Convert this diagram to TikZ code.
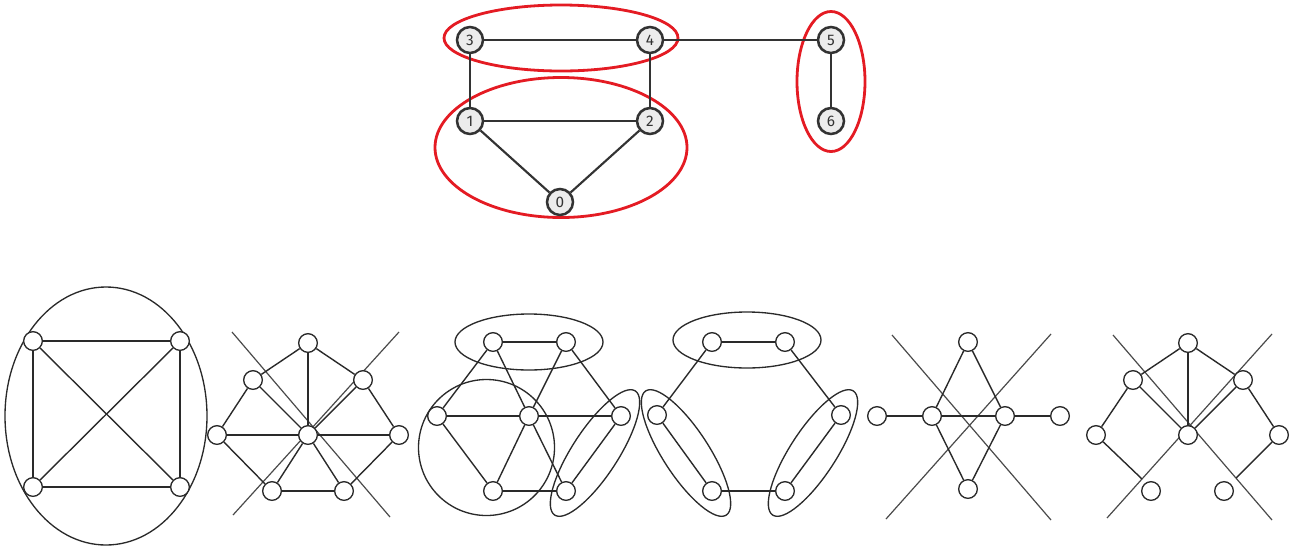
\documentclass[tikz,border=0pt]{standalone}
\usepackage{fontspec}
\setmainfont{Fira Sans}
\begin{document}
\begin{tikzpicture}[x=0.75pt,y=-0.75pt,
  tnode/.style={circle,draw=tgray,fill=nodefill,line width=1.9pt,minimum size=19.5pt,inner sep=0pt,font=\fontsize{11.5}{11.5}\selectfont,text=tgray},
  tedge/.style={draw=tgray,line width=1.6pt},
  redell/.style={draw=redc,line width=2.1pt},
  bnode/.style={circle,draw=bgray,fill=white,line width=1pt,minimum size=14pt,inner sep=0pt},
  bedge/.style={draw=bgray,line width=1.05pt},
  cross/.style={draw=cgray,line width=0.9pt},
  bell/.style={draw=bgray,line width=1pt}]
\definecolor{tgray}{HTML}{333333}
\definecolor{nodefill}{HTML}{ECECEC}
\definecolor{redc}{HTML}{E41B23}
\definecolor{bgray}{HTML}{2A2A2A}
\definecolor{cgray}{HTML}{4A4A4A}
\useasboundingbox (0,0) rectangle (1293,547);

% ---------- top graph ----------
\draw[redell] (561,38) ellipse [x radius=87.75pt, y radius=24.75pt];
\draw[redell] (561,147.5) ellipse [x radius=94.5pt, y radius=52.5pt];
\draw[redell] (831,81.5) ellipse [x radius=25.5pt, y radius=52.5pt];
\node[tnode] (t3) at (470,40) {3};
\node[tnode] (t4) at (650,40) {4};
\node[tnode] (t5) at (831,40) {5};
\node[tnode] (t1) at (470,121) {1};
\node[tnode] (t2) at (650,121) {2};
\node[tnode] (t6) at (831,121) {6};
\node[tnode] (t0) at (560,202) {0};
\draw[tedge] (t3) -- (t4);
\draw[tedge] (t4) -- (t5);
\draw[tedge] (t3) -- (t1);
\draw[tedge] (t4) -- (t2);
\draw[tedge] (t1) -- (t2);
\draw[tedge] (t1) -- (t0);
\draw[tedge] (t2) -- (t0);
\draw[tedge] (t5) -- (t6);

% ---------- panel 1 ----------
\draw[bell] (106,416) ellipse [x radius=75.75pt, y radius=96.75pt];
\node[bnode] (a1) at (33,341) {};
\node[bnode] (a2) at (180,341) {};
\node[bnode] (a3) at (33,487) {};
\node[bnode] (a4) at (180,487) {};
\draw[bedge] (a1) -- (a2);
\draw[bedge] (a3) -- (a4);
\draw[bedge] (a1) -- (a3);
\draw[bedge] (a2) -- (a4);
\draw[bedge] (a1) -- (a4);
\draw[bedge] (a2) -- (a3);

% ---------- panel 2 ----------
\coordinate (bx1) at (232,332);
\coordinate (bx2) at (390,517);
\coordinate (bx3) at (233,515);
\coordinate (bx4) at (399,332);
\draw[cross] (bx1) -- (bx2);
\draw[cross] (bx3) -- (bx4);
\node[bnode] (b1) at (308,343) {};
\node[bnode] (b2) at (253,380) {};
\node[bnode] (b3) at (363,380) {};
\node[bnode] (b4) at (217,435) {};
\node[bnode] (b5) at (308,435) {};
\node[bnode] (b6) at (399,435) {};
\node[bnode] (b7) at (272,491) {};
\node[bnode] (b8) at (344,491) {};
\draw[bedge] (b1) -- (b2);
\draw[bedge] (b1) -- (b3);
\draw[bedge] (b1) -- (b5);
\draw[bedge] (b2) -- (b4);
\draw[bedge] (b2) -- (b5);
\draw[bedge] (b3) -- (b6);
\draw[bedge] (b3) -- (b5);
\draw[bedge] (b4) -- (b5);
\draw[bedge] (b5) -- (b6);
\draw[bedge] (b4) -- (b7);
\draw[bedge] (b6) -- (b8);
\draw[bedge] (b7) -- (b8);
\draw[bedge] (b5) -- (b7);
\draw[bedge] (b5) -- (b8);

% ---------- panel 3 ----------
\node[bnode] (c1) at (493,342) {};
\node[bnode] (c2) at (566,342) {};
\node[bnode] (c3) at (437,416) {};
\node[bnode] (c4) at (529,416) {};
\node[bnode] (c5) at (621,416) {};
\node[bnode] (c6) at (493,491) {};
\node[bnode] (c7) at (566,491) {};
\draw[bedge] (c1) -- (c2);
\draw[bedge] (c1) -- (c3);
\draw[bedge] (c1) -- (c4);
\draw[bedge] (c2) -- (c4);
\draw[bedge] (c2) -- (c5);
\draw[bedge] (c3) -- (c4);
\draw[bedge] (c4) -- (c5);
\draw[bedge] (c3) -- (c6);
\draw[bedge] (c4) -- (c6);
\draw[bedge] (c4) -- (c7);
\draw[bedge] (c6) -- (c7);
\draw[bedge] (c5) -- (c7);
\draw[bell] (529,342) ellipse [x radius=55.5pt, y radius=21pt];
\draw[bell] (486.5,447.5) circle [radius=51pt];
\draw[bell, rotate around={57:(595,453)}] (595,453) ellipse [x radius=55.5pt, y radius=17.25pt];

% ---------- panel 4 ----------
\node[bnode] (d1) at (712,342) {};
\node[bnode] (d2) at (785,342) {};
\node[bnode] (d3) at (657,415) {};
\node[bnode] (d4) at (841,415) {};
\node[bnode] (d5) at (712,491) {};
\node[bnode] (d6) at (785,491) {};
\draw[bedge] (d1) -- (d2);
\draw[bedge] (d1) -- (d3);
\draw[bedge] (d2) -- (d4);
\draw[bedge] (d3) -- (d5);
\draw[bedge] (d4) -- (d6);
\draw[bedge] (d5) -- (d6);
\draw[bell] (747,340) ellipse [x radius=55.5pt, y radius=21pt];
\draw[bell, rotate around={-57:(686,453)}] (686,453) ellipse [x radius=55.5pt, y radius=17.25pt];
\draw[bell, rotate around={57:(813,453)}] (813,453) ellipse [x radius=55.5pt, y radius=17.25pt];

% ---------- panel 5 ----------
\coordinate (ex1) at (892,335);
\coordinate (ex2) at (1051,520);
\coordinate (ex3) at (886,519);
\coordinate (ex4) at (1051,334);
\draw[cross] (ex1) -- (ex2);
\draw[cross] (ex3) -- (ex4);
\node[bnode] (e1) at (968,342) {};
\node[bnode] (e2) at (877,416) {};
\node[bnode] (e3) at (932,416) {};
\node[bnode] (e4) at (1005,416) {};
\node[bnode] (e5) at (1060,416) {};
\node[bnode] (e6) at (968,489) {};
\draw[bedge] (e2) -- (e3);
\draw[bedge] (e3) -- (e4);
\draw[bedge] (e4) -- (e5);
\draw[bedge] (e1) -- (e3);
\draw[bedge] (e1) -- (e4);
\draw[bedge] (e3) -- (e6);
\draw[bedge] (e4) -- (e6);

% ---------- panel 6 ----------
\coordinate (fx1) at (1113,335);
\coordinate (fx2) at (1272,520);
\coordinate (fx3) at (1107,518);
\coordinate (fx4) at (1272,334);
\coordinate (fp1) at (1142,479);
\coordinate (fp2) at (1236,478);
\draw[cross] (fx1) -- (fx2);
\draw[cross] (fx3) -- (fx4);
\node[bnode] (f1) at (1188,343) {};
\node[bnode] (f2) at (1133,380) {};
\node[bnode] (f3) at (1243,380) {};
\node[bnode] (f4) at (1096,435) {};
\node[bnode] (f5) at (1188,435) {};
\node[bnode] (f6) at (1279,435) {};
\node[bnode] (f7) at (1151,491) {};
\node[bnode] (f8) at (1224,491) {};
\draw[bedge] (f1) -- (f2);
\draw[bedge] (f1) -- (f3);
\draw[bedge] (f1) -- (f5);
\draw[bedge] (f2) -- (f4);
\draw[bedge] (f2) -- (f5);
\draw[bedge] (f3) -- (f6);
\draw[bedge] (f3) -- (f5);
\draw[bedge] (f4) -- (fp1);
\draw[bedge] (f6) -- (fp2);
\end{tikzpicture}
\end{document}
